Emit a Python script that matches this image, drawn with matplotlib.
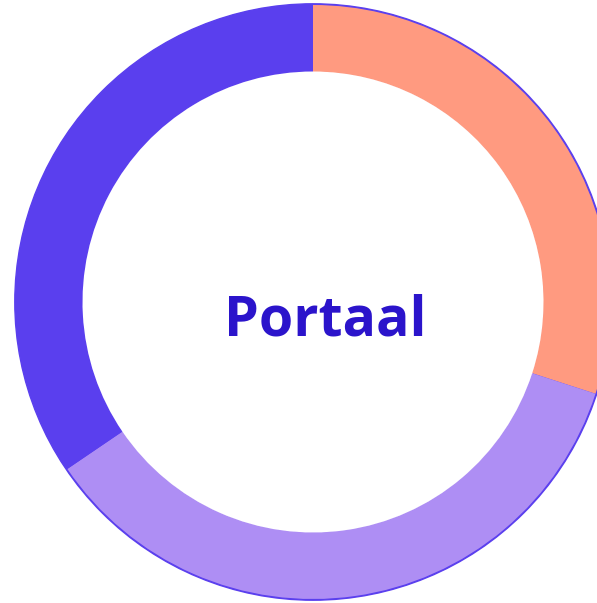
import matplotlib
matplotlib.use("Agg")
from matplotlib import pyplot as plt

# segment shares, clockwise from 12 o'clock
labels = ["Salmon", "Lavender", "Purple"]
values = [30.0, 35.5, 34.5]
colors = ["#FF9A80", "#AE8EF4", "#5A3FEE"]
title = "Portaal"

W, H = 597, 603
cx, cy = 313, H - 302
R_out, R_in = 297, 230.5

fig = plt.figure(figsize=(W / 100, H / 100), dpi=100)
ax = fig.add_axes([0, 0, 1, 1])
ax.set_xlim(0, W)
ax.set_ylim(0, H)
ax.set_aspect("equal")
ax.axis("off")

# thin purple rim behind the ring
ax.add_patch(plt.Circle((cx, cy), R_out + 1.2, color="#5A3FEE", zorder=0))
ax.add_patch(plt.Circle((cx, cy), R_in, color="white", zorder=0.5))

ax.pie(values, colors=colors, startangle=90, counterclock=False,
       center=(cx, cy), radius=R_out, frame=True,
       wedgeprops=dict(width=R_out - R_in, linewidth=0))
ax.set_xlim(0, W)
ax.set_ylim(0, H)
ax.axis("off")

ax.text(325, H - 336, title, ha="center", va="baseline",
        fontsize=40, fontweight="bold", family=["Open Sans", "DejaVu Sans"],
        color="#2B14CB")

fig.savefig("out.png", dpi=100)
